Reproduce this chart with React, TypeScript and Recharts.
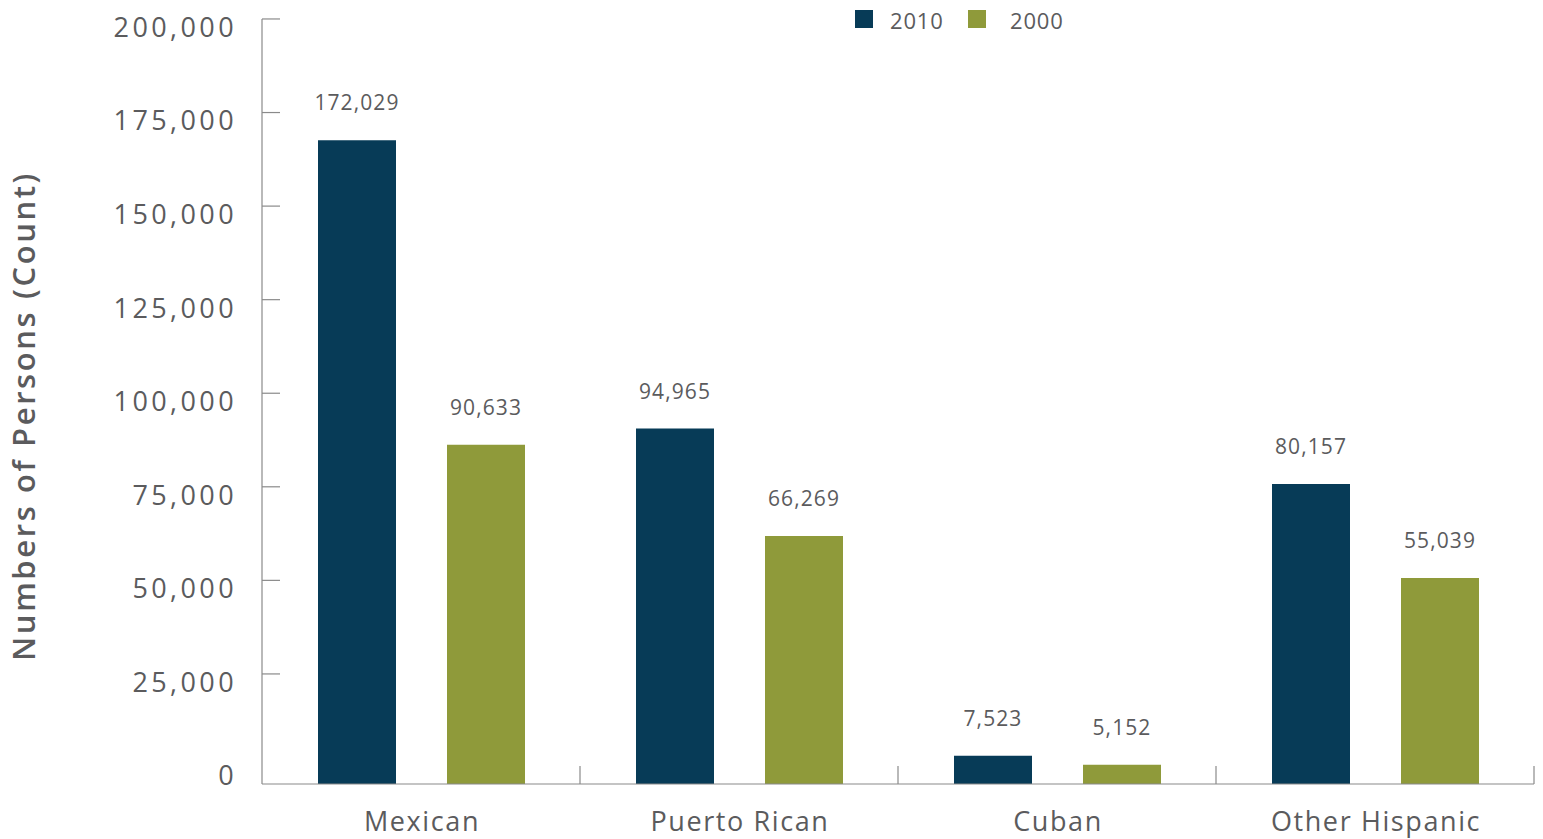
import React from "react";
import { BarChart, Bar, XAxis, YAxis, LabelList } from "recharts";

const categories = ["Mexican", "Puerto Rican", "Cuban", "Other Hispanic"];
const values2010 = [172029, 94965, 7523, 80157];
const values2000 = [90633, 66269, 5152, 55039];
const yTicks = [0, 25000, 50000, 75000, 100000, 125000, 150000, 175000, 200000];

const NAVY = "#073b57";
const OLIVE = "#8f9a3a";
const TEXT = "#5b5b5d";
const AXIS = "#8a8a8a";
const FONT = "'Open Sans', sans-serif";

const data = categories.map((name, i) => ({
  name,
  y2010: values2010[i],
  y2000: values2000[i],
}));

const fmt = (v: number) => v.toLocaleString("en-US");

const YTick = (props: any) => {
  const { x, y, payload } = props;
  const axisX = x + 28;
  return (
    <g>
      <text
        x={x + 3}
        y={y - 8}
        dy="0.35em"
        textAnchor="end"
        fill={TEXT}
        fontSize={27}
        letterSpacing={3.4}
        fontFamily={FONT}
      >
        {fmt(payload.value)}
      </text>
      {payload.value > 0 && (
        <line x1={axisX} x2={axisX + 18} y1={y - 16.5} y2={y - 16.5} stroke={AXIS} strokeWidth={1.2} />
      )}
    </g>
  );
};

const XTick = (props: any) => {
  const { x, y, payload } = props;
  return (
    <g>
      <text
        x={x + 1}
        y={y + 38}
        dy="0.35em"
        textAnchor="middle"
        fill={TEXT}
        fontSize={27}
        letterSpacing={1.6}
        fontFamily={FONT}
      >
        {payload.value}
      </text>
      <line x1={x + 159} x2={x + 159} y1={y - 18} y2={y} stroke={AXIS} strokeWidth={1.2} />
    </g>
  );
};

const YTitle = () => (
  <text
    transform="translate(35,416) rotate(-90)"
    textAnchor="middle"
    fill={TEXT}
    fontSize={31}
    fontWeight={600}
    letterSpacing={2.6}
    fontFamily={FONT}
  >
    Numbers of Persons (Count)
  </text>
);

const legendItems = [
  { label: "2010", color: NAVY, left: 855, textLeft: 890 },
  { label: "2000", color: OLIVE, left: 968, textLeft: 1010 },
];

export default function App() {
  return (
    <div style={{ position: "absolute", left: 0, top: 0, width: 1543, height: 839, background: "#fff" }}>
      <BarChart
        width={1543}
        height={839}
        data={data}
        margin={{ top: 19, right: 9, bottom: 0, left: 0 }}
        barSize={78}
        barGap={51}
      >
        <XAxis
          dataKey="name"
          height={55}
          tickLine={false}
          tickSize={0}
          tickMargin={0}
          axisLine={{ stroke: AXIS, strokeWidth: 1.2 }}
          tick={<XTick />}
          interval={0}
        />
        <YAxis
          width={262}
          domain={[0, 204400]}
          ticks={yTicks}
          interval={0}
          tickLine={false}
          tickSize={0}
          tickMargin={28}
          axisLine={{ stroke: AXIS, strokeWidth: 1.2 }}
          tick={<YTick />}
          label={{ content: () => <YTitle /> }}
        />
        <Bar dataKey="y2010" fill={NAVY} isAnimationActive={false}>
          <LabelList
            dataKey="y2010"
            position="top"
            offset={30}
            formatter={(v: any) => fmt(Number(v))}
            fill={TEXT}
            fontSize={21}
            letterSpacing={1.1}
            fontFamily={FONT}
          />
        </Bar>
        <Bar dataKey="y2000" fill={OLIVE} isAnimationActive={false}>
          <LabelList
            dataKey="y2000"
            position="top"
            offset={30}
            formatter={(v: any) => fmt(Number(v))}
            fill={TEXT}
            fontSize={21}
            letterSpacing={1.1}
            fontFamily={FONT}
          />
        </Bar>
      </BarChart>
      {legendItems.map((it) => (
        <React.Fragment key={it.label}>
          <div style={{ position: "absolute", left: it.left, top: 10, width: 18, height: 18, background: it.color }} />
          <div
            style={{
              position: "absolute",
              left: it.textLeft,
              top: 4,
              lineHeight: "32px",
              fontSize: 22,
              letterSpacing: 0.8,
              fontFamily: FONT,
              color: TEXT,
            }}
          >
            {it.label}
          </div>
        </React.Fragment>
      ))}
    </div>
  );
}
